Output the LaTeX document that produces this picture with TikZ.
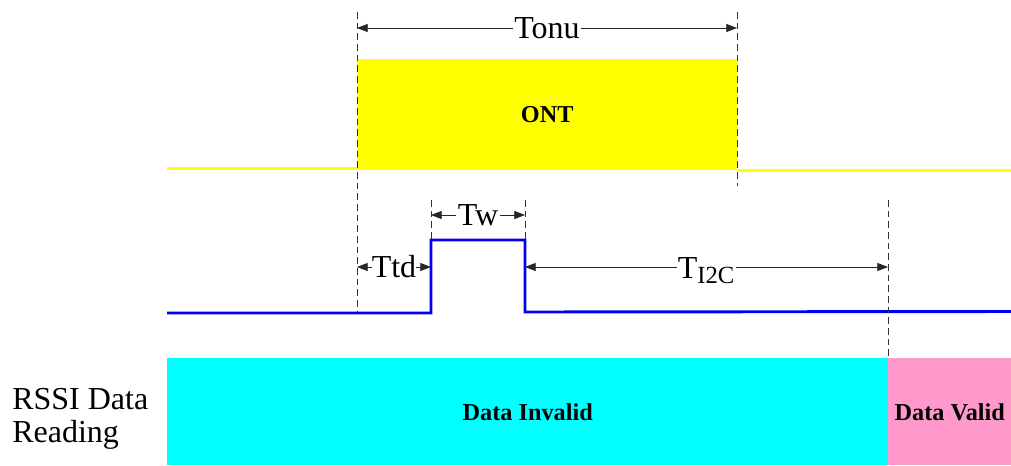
\documentclass[tikz,border=0pt]{standalone}
\usepackage{fontspec}
\setmainfont{Liberation Serif}
\usetikzlibrary{arrows.meta}
\definecolor{sigyellow}{HTML}{FFFF00}
\definecolor{sigblue}{HTML}{0000EE}
\definecolor{invcyan}{HTML}{00FFFF}
\definecolor{valpink}{HTML}{FF99CC}
\definecolor{guide}{HTML}{333333}
\begin{document}
\begin{tikzpicture}[x=0.75pt,y=-0.75pt,
  guideline/.style={draw=guide,dashed,dash pattern=on 5pt off 3pt,line width=0.6pt},
  dim/.style={draw=black!85,line width=0.6pt,{Triangle[length=8pt,width=6pt]}-{Triangle[length=8pt,width=6pt]}},
  dimlabel/.style={fill=white,inner sep=1pt,font=\fontsize{24}{28}\selectfont},
  boldlabel/.style={font=\fontsize{18.2}{21}\selectfont\bfseries},
  yline/.style={draw=sigyellow,line width=2.2pt},
  bline/.style={draw=sigblue,line width=2.2pt,line join=miter}]
\useasboundingbox (0,0) rectangle (1011,465);
% ONT yellow signal
\node[fill=sigyellow,minimum width=380*0.75pt,minimum height=111*0.75pt,inner sep=0pt,anchor=north west,boldlabel] (ont) at (357,59) {ONT};
\coordinate (yl0) at (167,168.5);
\coordinate (yr1) at (1011,170.5);
\draw[yline] (yl0) -- (ont.south west |- yl0);
\draw[yline] (ont.south east |- yr1) -- (yr1);
% guides for Tonu
\coordinate (g1t) at (357,12);
\coordinate (g1b) at (357,312);
\coordinate (g2t) at (737,12);
\coordinate (g2b) at (737,186);
\draw[guideline] (g1t) -- (g1b);
\draw[guideline] (g2t) -- (g2b);
\coordinate (tonuL) at (357,28);
\coordinate (tonuR) at (737,28);
\draw[dim] (tonuL) -- node[dimlabel] (tonu) {Tonu} (tonuR);
% blue pulse
\coordinate (b0) at (167,313);
\coordinate (b1) at (431,313);
\coordinate (b2) at (431,240);
\coordinate (b3) at (525,240);
\coordinate (b4) at (525,312);
\coordinate (b5) at (1011,311.5);
\draw[bline] (b0) -- (b1) -- (b2) -- (b3) -- (b4) -- (b5);
% guides for Tw
\coordinate (g3t) at (431,200);
\coordinate (g4t) at (525,200);
\draw[guideline] (g3t) -- (b2);
\draw[guideline] (g4t) -- (b3);
\coordinate (twL) at (431,215);
\coordinate (twR) at (525,215);
\draw[dim] (twL) -- node[dimlabel] (tw) {Tw} (twR);
% Ttd
\coordinate (tdL) at (357,267);
\coordinate (tdR) at (431,267);
\draw[dim] (tdL) -- node[dimlabel,inner sep=0pt] (ttd) {Ttd} (tdR);
% TI2C
\coordinate (g5t) at (888,200);
\coordinate (g5b) at (888,358);
\draw[guideline] (g5t) -- (g5b);
\coordinate (icL) at (525,267);
\coordinate (icR) at (888,267);
\draw[dim] (icL) -- node[dimlabel,yshift=-3pt] (ti2c) {T\textsubscript{\fontsize{18.5}{20}\selectfont I2C}} (icR);
% RSSI rows
\node[fill=invcyan,minimum width=721*0.75pt,minimum height=107*0.75pt,inner sep=0pt,anchor=north west,boldlabel] (inv) at (167,358) {Data Invalid};
\node[fill=valpink,minimum width=123*0.75pt,minimum height=107*0.75pt,inner sep=0pt,anchor=north west,boldlabel] (val) at (888,358) {Data Valid};
\node[align=left,anchor=west,inner sep=0pt,font=\fontsize{24}{25}\selectfont] (rssi) at (12,419) {RSSI Data\\Reading};
\end{tikzpicture}
\end{document}
